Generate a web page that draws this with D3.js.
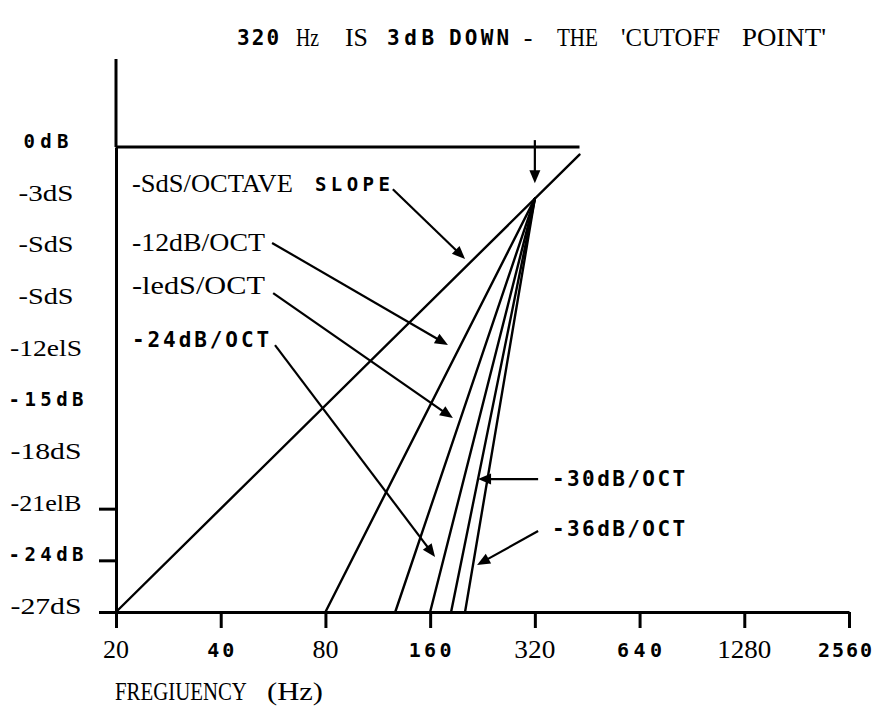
<!DOCTYPE html>
<html><head><meta charset="utf-8">
<script src="https://cdn.jsdelivr.net/npm/d3@7/dist/d3.min.js"></script>
<style>html,body{margin:0;padding:0;background:#fff;} svg{display:block;}</style>
</head><body>
<script>
// ---- data ----
const slopes = [6, 12, 18, 24, 30, 36];          // dB per octave
const cutoffFreq = 320;                          // Hz
const cutoffDb = -3;                             // dB at cutoff
const floorDb = -27;                             // bottom of chart
const slopeEndFreq = 430;                        // where the 6 dB/oct line and 0 dB line stop
const xTicks = [20, 40, 80, 160, 320, 640, 1280, 2560];
const xTickLabels = ["20", "40", "80", "160", "320", "640", "1280", "2560"];
const xTickMono = [false, true, false, true, false, true, false, true];
const yTicks = [0, -3, -6, -9, -12, -15, -18, -21, -24, -27];
const yTickLabels = ["0dB", "-3dS", "-SdS", "-SdS", "-12elS", "-15dB", "-18dS", "-21elB", "-24dB", "-27dS"];
const yTickMono = [true, false, false, false, false, true, false, false, true, false];
const yTickMarks = [-21, -24, -27];
// annotation arrows in data units [Hz, dB]
const arrowFrom = [[125, -2.45], [56.2, -5.57], [56.6, -8.48], [57.3, -11.5], [327, -19.28], [327, -22.3], [320, 0.4]];
const arrowTo   = [[201.6, -6.5], [180, -11.5], [186, -15.74], [165.3, -23.8], [219.7, -19.28], [218.3, -24.27], [320, -2.1]];

// ---- setup ----
const W = 878, H = 707;
const svg = d3.select("body").append("svg").attr("width", W).attr("height", H);
const x = d3.scaleLog().base(2).domain([20, 2560]).range([116, 849]);
const y = d3.scaleLinear().domain([0, -27]).range([147, 612]);

const SERIF = "'Liberation Serif','Times New Roman',serif";
const MONO = "'DejaVu Sans Mono',monospace";

// place a text so that its visible width is about `len` and its cap-height centre is at cy
function addText(str, px, cy, opts) {
  const mono = !!opts.mono;
  const fs = opts.fs || (mono ? 21 : 25);
  const cap = mono ? 0.729 * fs : 0.655 * fs;
  const anchor = opts.anchor || "start";
  const g = svg.append("g");
  const t = g.append("text")
    .attr("x", 0).attr("y", 0)
    .attr("font-family", mono ? MONO : SERIF)
    .attr("font-size", fs)
    .attr("font-weight", opts.bold ? "bold" : "normal")
    .attr("text-anchor", anchor)
    .attr("fill", "#000")
    .text(str);
  const base = cy + cap / 2;
  if (opts.len) {
    const nat = t.node().getComputedTextLength();
    if (mono) {
      const n = str.length;
      const glyphW = nat - 0.1 * fs;
      const spacing = n > 1 ? Math.max(0, (opts.len - glyphW) / (n - 1)) : 0;
      t.attr("letter-spacing", spacing);
      const shift = anchor === "middle" ? spacing / 2 : 0;
      g.attr("transform", `translate(${px + shift},${base})`);
    } else {
      const sx = opts.len / nat;
      g.attr("transform", `translate(${px},${base}) scale(${sx},1)`);
    }
  } else {
    g.attr("transform", `translate(${px},${base})`);
  }
  return t;
}

// ---- axes ----
const xAxis = d3.axisBottom(x).tickValues(xTicks).tickSize(16).tickSizeOuter(0).tickFormat("");
const gx = svg.append("g").attr("transform", `translate(0,${y(floorDb)})`).call(xAxis);
gx.selectAll("path,line").attr("stroke", "#000").attr("stroke-width", 3);

const yAxis = d3.axisLeft(y).tickValues(yTickMarks).tickSize(17).tickSizeOuter(0).tickFormat("");
const gy = svg.append("g").attr("transform", `translate(${x(20)},0)`).call(yAxis);
gy.selectAll("path,line").attr("stroke", "#000").attr("stroke-width", 3);
// upward extension of the vertical axis
svg.append("line").attr("x1", x(20)).attr("x2", x(20)).attr("y1", 59).attr("y2", y(0))
  .attr("stroke", "#000").attr("stroke-width", 3);

// y labels
const yLens = [43, 55, 55, 55, 72, 73, 71, 71, 73, 71];
yTicks.forEach((v, i) => {
  addText(yTickLabels[i], 46, y(v) - 6, {mono: yTickMono[i], bold: yTickMono[i], anchor: "middle", fs: yTickMono[i] ? 19 : 24, len: yLens[i]});
});
// x labels
const xLens = [26, 25, 26, 41, 41, 43, 54, 52];
xTicks.forEach((v, i) => {
  const last = i === xTicks.length - 1;
  addText(xTickLabels[i], x(v) - (last ? 4 : 0), 650, {mono: xTickMono[i], bold: xTickMono[i], anchor: "middle", fs: xTickMono[i] ? 20 : 25, len: xLens[i]});
});
addText("FREGIUENCY", 115, 692, {fs: 25, len: 132});
addText("(Hz)", 267, 692, {fs: 25, len: 56});

// ---- 0 dB reference line ----
svg.append("line")
  .attr("x1", x(20)).attr("x2", x(slopeEndFreq))
  .attr("y1", y(0)).attr("y2", y(0))
  .attr("stroke", "#000").attr("stroke-width", 3);

// ---- slope lines ----
const lineGen = d3.line().x(d => x(d[0])).y(d => y(d[1]));
slopes.forEach(s => {
  const fStart = cutoffFreq / Math.pow(2, (cutoffDb - floorDb) / s);
  const fEnd = s === slopes[0] ? slopeEndFreq : cutoffFreq;
  const dbEnd = cutoffDb + s * Math.log2(fEnd / cutoffFreq);
  svg.append("path").attr("d", lineGen([[fStart, floorDb], [fEnd, dbEnd]]))
    .attr("fill", "none").attr("stroke", "#000").attr("stroke-width", 2.4)
    .attr("stroke-linecap", "round");
});

// ---- arrows ----
arrowFrom.forEach((a, i) => {
  const b = arrowTo[i];
  const x1 = x(a[0]), y1 = y(a[1]), x2 = x(b[0]), y2 = y(b[1]);
  const dx = x2 - x1, dy = y2 - y1, L = Math.hypot(dx, dy);
  const ux = dx / L, uy = dy / L;
  const hl = 13, hw = 5.5;
  const bx = x2 - ux * hl, by = y2 - uy * hl;
  svg.append("line").attr("x1", x1).attr("y1", y1).attr("x2", bx + ux * 2).attr("y2", by + uy * 2)
    .attr("stroke", "#000").attr("stroke-width", 2.2);
  svg.append("path")
    .attr("d", `M${x2},${y2}L${bx - uy * hw},${by + ux * hw}L${bx + uy * hw},${by - ux * hw}Z`)
    .attr("fill", "#000");
});

// ---- annotations ----
addText("-SdS/OCTAVE", 132, 183.5, {fs: 26, len: 161});
addText("SLOPE", 315, 184, {mono: true, bold: true, fs: 19, len: 73});
addText("-12dB/OCT", 132, 242, {fs: 26, len: 133});
addText("-ledS/OCT", 132, 285.5, {fs: 26, len: 133});
addText("-24dB/OCT", 132, 339.5, {mono: true, bold: true, fs: 21, len: 135});
addText("-30dB/OCT", 552, 478, {mono: true, bold: true, fs: 21, len: 131});
addText("-36dB/OCT", 552, 528, {mono: true, bold: true, fs: 21, len: 131});

// ---- title ----
const ty = 37;
addText("320", 237, ty, {mono: true, bold: true, fs: 21, len: 40});
addText("Hz", 296, ty, {fs: 26, len: 23});
addText("IS", 345, ty, {fs: 26, len: 23});
addText("3dB", 387, ty, {mono: true, bold: true, fs: 21, len: 45});
addText("DOWN", 449, ty, {mono: true, bold: true, fs: 21, len: 58});
addText("-", 528, ty, {fs: 26, anchor: "middle"});
addText("THE", 557, ty, {fs: 26, len: 41});
addText("'CUTOFF", 621, ty, {fs: 26, len: 99});
addText("POINT'", 742, ty, {fs: 26, len: 84});
</script>
</body></html>
